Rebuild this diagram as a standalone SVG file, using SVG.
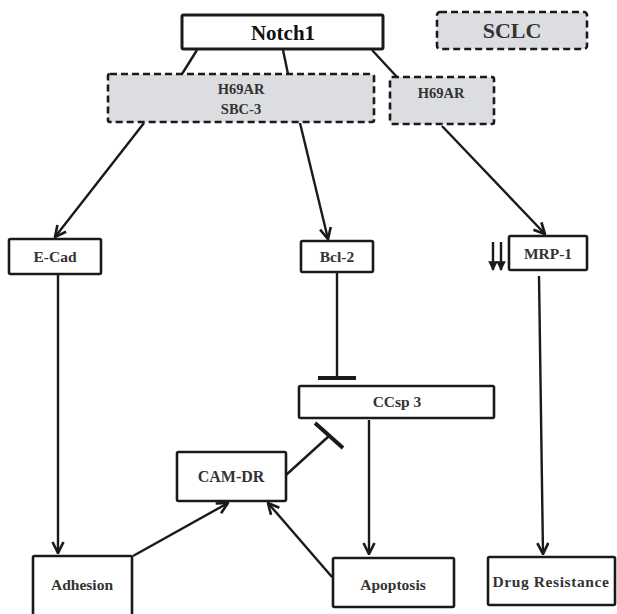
<svg xmlns="http://www.w3.org/2000/svg" width="617" height="614" viewBox="0 0 617 614">
<style>
.box{fill:#fff;stroke:#1a1a1a;stroke-width:2.6}
.dash{fill:#dcdde0;stroke:#1a1a1a;stroke-width:2.6;stroke-dasharray:7 4}
.t{font-family:"Liberation Serif","Times New Roman",serif;font-weight:bold;font-size:15.5px;fill:#333;text-anchor:middle}
.big{font-size:21px;fill:#111}
.ln{stroke:#1a1a1a;stroke-width:2.4;fill:none}
.ar{marker-end:url(#arr)}
.bar{stroke:#1a1a1a;stroke-width:4;fill:none}
</style>
<defs>
<marker id="arr" viewBox="0 0 12 12" refX="11" refY="6" markerWidth="5.5" markerHeight="5.5" orient="auto" markerUnits="strokeWidth">
<path d="M1,1 L11,6 L1,11" fill="none" stroke="#1a1a1a" stroke-width="2.4"/>
</marker>
<marker id="tri" viewBox="0 0 10 10" refX="9" refY="5" markerWidth="4" markerHeight="4" orient="auto" markerUnits="strokeWidth">
<path d="M0,0 L10,5 L0,10 Z" fill="#1a1a1a"/>
</marker>
</defs>
<g id="connectors">
<line class="ln" x1="197" y1="50" x2="182" y2="74"/>
<line class="ln" x1="283" y1="50" x2="288" y2="74"/>
<line class="ln" x1="372" y1="50" x2="397" y2="77"/>
<line class="ln ar" x1="144" y1="123" x2="55" y2="237"/>
<line class="ln ar" x1="300" y1="123" x2="328" y2="239"/>
<line class="ln ar" x1="442" y1="126" x2="545" y2="234"/>
<line class="ln ar" x1="58" y1="275" x2="58" y2="553"/>
<line class="ln" x1="337" y1="273" x2="337" y2="377"/>
<line class="bar" x1="318" y1="378" x2="356" y2="378"/>
<line class="ln ar" x1="369" y1="420" x2="369" y2="554"/>
<line class="ln ar" x1="539" y1="276" x2="543" y2="554"/>
<line class="ln" x1="286" y1="475" x2="329" y2="436"/>
<line class="bar" x1="315" y1="423" x2="343" y2="448"/>
<line class="ln ar" x1="133" y1="556" x2="228" y2="503"/>
<line class="ln ar" x1="332" y1="577" x2="268" y2="503"/>
<line x1="493" y1="242" x2="493" y2="270" stroke="#1a1a1a" stroke-width="2.4" marker-end="url(#tri)"/>
<line x1="501" y1="242" x2="501" y2="270" stroke="#1a1a1a" stroke-width="2.4" marker-end="url(#tri)"/>
</g>
<g id="notch1"><rect class="box" x="182" y="15" width="201" height="34" rx="1.5" style="stroke-width:3"/><text class="t big" x="283" y="40">Notch1</text></g>
<g id="sclc"><rect class="dash" x="437" y="12" width="150" height="37" rx="3"/><text class="t" x="512" y="38" style="font-size:22px">SCLC</text></g>
<g id="h69ar-sbc3"><rect class="dash" x="108" y="74" width="266" height="48" rx="2"/><text class="t" x="241" y="94" style="font-size:14.5px">H69AR</text><text class="t" x="241" y="114" style="font-size:14.5px">SBC-3</text></g>
<g id="h69ar"><rect class="dash" x="390" y="77" width="104" height="47" rx="2"/><text class="t" x="441" y="98" style="font-size:14.5px">H69AR</text></g>
<g id="ecad"><rect class="box" x="9" y="239" width="92" height="35" rx="1.5"/><text class="t" x="55" y="262">E-Cad</text></g>
<g id="bcl2"><rect class="box" x="301" y="241" width="72" height="31" rx="1.5"/><text class="t" x="337" y="262">Bcl-2</text></g>
<g id="mrp1"><rect class="box" x="509" y="236" width="78" height="34" rx="1.5"/><text class="t" x="548" y="259">MRP-1</text></g>
<g id="ccsp3"><rect class="box" x="299" y="386" width="195" height="32" rx="1.5"/><text class="t" x="397" y="407">CCsp 3</text></g>
<g id="camdr"><rect class="box" x="177" y="452" width="109" height="49" rx="1.5"/><text class="t" x="231" y="482" style="font-size:16px">CAM-DR</text></g>
<g id="adhesion"><rect class="box" x="33" y="556" width="99" height="60" rx="1.5"/><text class="t" x="82" y="590">Adhesion</text></g>
<g id="apoptosis"><rect class="box" x="333" y="558" width="121" height="49" rx="1.5"/><text class="t" x="393" y="590">Apoptosis</text></g>
<g id="drug-resistance"><rect class="box" x="488" y="557" width="127" height="48" rx="1.5"/><text class="t" x="551" y="587" style="font-size:15.5px;letter-spacing:0.6px">Drug Resistance</text></g>
</svg>
